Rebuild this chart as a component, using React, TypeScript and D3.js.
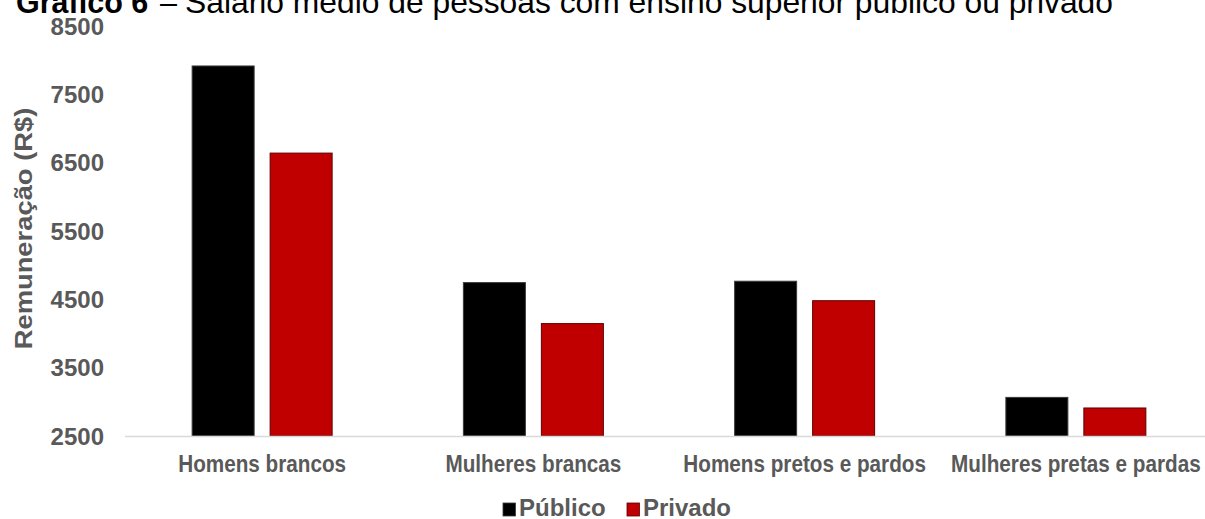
import React from "react";
import * as d3 from "d3";

const categories = [
  "Homens brancos",
  "Mulheres brancas",
  "Homens pretos e pardos",
  "Mulheres pretas e pardas",
];
const seriesNames = ["Público", "Privado"];
const publico = [7915, 4745, 4765, 3065];
const privado = [6640, 4145, 4480, 2910];
const yTicks = [2500, 3500, 4500, 5500, 6500, 7500, 8500];
const colors = ["#000000", "#C00000"];
const strokes = ["#3a3a3a", "#5e0000"];

const W = 1205;
const H = 519;
const FONT = "'Liberation Sans', Arial, Helvetica, sans-serif";
const GREY = "#595959";

export default function App() {
  const y = d3.scaleLinear().domain([2500, 8500]).range([436, 26]);
  const x0 = d3
    .scaleBand<string>()
    .domain(categories)
    .range([126.5, 1211.5])
    .paddingInner(0.4839)
    .paddingOuter(0.242);
  const x1 = d3
    .scaleBand<string>()
    .domain(seriesNames)
    .range([0, x0.bandwidth()])
    .paddingInner(0.205);
  const values = [publico, privado];

  return (
    <svg
      width={W}
      height={H}
      viewBox={`0 0 ${W} ${H}`}
      style={{ position: "absolute", left: 0, top: 0, background: "#fff", overflow: "hidden" }}
      fontFamily={FONT}
    >
      <rect x={0} y={0} width={W} height={H} fill="#fff" />
      {/* Title (cut off at top) */}
      <text x={16} y={13} fontSize={30.5} fill="#000">
        <tspan fontWeight="bold">Gráfico 6</tspan>
        <tspan x={160}>–</tspan>
        <tspan x={185} fontSize={31.8}>Salário médio de pessoas com ensino superior público ou privado</tspan>
      </text>

      {/* Y ticks */}
      {yTicks.map((t) => (
        <text
          key={t}
          x={104}
          y={y(t) + 8.5}
          textAnchor="end"
          fontSize={24}
          fontWeight="bold"
          fill={GREY}
        >
          {t}
        </text>
      ))}

      {/* Y axis title */}
      <g transform={`translate(32, 228.5) rotate(-90) scale(1.14, 1)`}>
        <text x={0} y={0} textAnchor="middle" fontSize={24} fontWeight="bold" fill={GREY}>
          Remuneração (R$)
        </text>
      </g>

      {/* Bars */}
      {categories.map((c, i) => (
        <g key={c} transform={`translate(${x0(c)},0)`}>
          {seriesNames.map((s, j) => (
            <rect
              key={s}
              x={x1(s)}
              y={y(values[j][i])}
              width={x1.bandwidth()}
              height={y(2500) - y(values[j][i])}
              fill={colors[j]}
              stroke={strokes[j]}
              strokeWidth={1}
            />
          ))}
        </g>
      ))}

      {/* X axis line */}
      <line x1={125} x2={W} y1={y(2500) + 0.5} y2={y(2500) + 0.5} stroke="#d9d9d9" strokeWidth={1.5} />

      {/* Category labels */}
      {categories.map((c) => {
        const cx = (x0(c) as number) + x0.bandwidth() / 2;
        return (
          <g key={c} transform={`translate(${cx}, 472) scale(0.9, 1)`}>
            <text x={0} y={0} textAnchor="middle" fontSize={23} fontWeight="bold" fill={GREY}>
              {c}
            </text>
          </g>
        );
      })}

      {/* Legend */}
      {seriesNames.map((s, j) => {
        const lx = j === 0 ? 503 : 627;
        return (
          <g key={s}>
            <rect x={lx} y={503} width={12.5} height={13} fill={colors[j]} stroke={strokes[j]} strokeWidth={0.8} />
            <text x={lx + 16} y={516} fontSize={24} fontWeight="bold" fill={GREY}>
              {s}
            </text>
          </g>
        );
      })}
    </svg>
  );
}
